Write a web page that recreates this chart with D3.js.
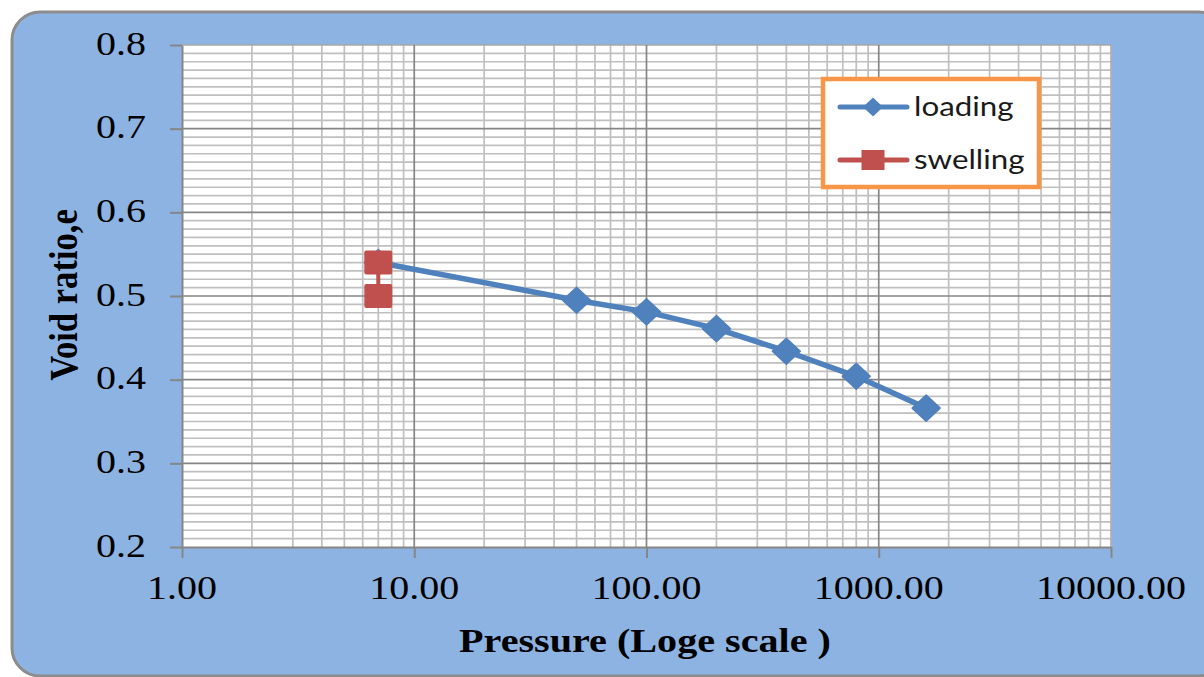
<!DOCTYPE html>
<html>
<head>
<meta charset="utf-8">
<script src="https://cdn.jsdelivr.net/npm/d3@7"></script>
<style>
  html, body { margin: 0; padding: 0; background: #ffffff; }
  svg { display: block; }
</style>
</head>
<body>
<svg id="chart" width="1204" height="677"></svg>
<script>
// ---- data ----
const loadingPressure = [7, 50, 100, 200, 400, 800, 1600];
const loadingVoid     = [0.540, 0.495, 0.481, 0.461, 0.434, 0.404, 0.366];
const swellingPressure = [7, 7];
const swellingVoid     = [0.540, 0.500];
const xTickValues = [1, 10, 100, 1000, 10000];
const yTickValues = [0.2, 0.3, 0.4, 0.5, 0.6, 0.7, 0.8];
const seriesNames = ["loading", "swelling"];
const xTitle = "Pressure (Loge scale )";
const yTitle = "Void ratio,e";

// ---- layout ----
const svg = d3.select("#chart");
const SX = 1.16; // horizontal stretch of the reference
const plot = { left: 182, right: 1111, top: 45, bottom: 547 };

const x = d3.scaleLog().domain([1, 10000]).range([plot.left, plot.right]);
const y = d3.scaleLinear().domain([0.2, 0.8]).range([plot.bottom, plot.top]);

// outer rounded background
svg.append("rect")
  .attr("x", 12).attr("y", 12)
  .attr("width", 1215).attr("height", 664)
  .attr("rx", 28).attr("ry", 28)
  .attr("fill", "#8db3e2")
  .attr("stroke", "#8c8c8c").attr("stroke-width", 3);

// plot area
svg.append("rect")
  .attr("x", plot.left).attr("y", plot.top)
  .attr("width", plot.right - plot.left).attr("height", plot.bottom - plot.top)
  .attr("fill", "#ffffff");

const grid = svg.append("g");
const minorColor = "#bfbfbf";

// minor vertical grid
const minorX = [];
for (let d = 1; d < 10000; d *= 10) for (let k = 2; k <= 9; k++) minorX.push(d * k);
grid.selectAll("line.mvx").data(minorX).enter().append("line")
  .attr("x1", d => x(d)).attr("x2", d => x(d))
  .attr("y1", plot.top).attr("y2", plot.bottom)
  .attr("stroke", minorColor).attr("stroke-width", 1.7);

// minor horizontal grid
const minorY = d3.range(20, 81).map(v => v / 100);
grid.selectAll("line.mhy").data(minorY.filter(v => Math.round(v * 100) % 10 !== 0)).enter().append("line")
  .attr("x1", plot.left).attr("x2", plot.right)
  .attr("y1", d => y(d)).attr("y2", d => y(d))
  .attr("stroke", minorColor).attr("stroke-width", 1.7);

// right edge (10000)
grid.append("line")
  .attr("x1", x(10000)).attr("x2", x(10000))
  .attr("y1", plot.top).attr("y2", plot.bottom)
  .attr("stroke", "#b0b0b0").attr("stroke-width", 1.7);

// major horizontal grid
grid.selectAll("line.My").data(yTickValues.filter(v => v > 0.2)).enter().append("line")
  .attr("x1", plot.left).attr("x2", plot.right)
  .attr("y1", d => y(d)).attr("y2", d => y(d))
  .attr("stroke", d => d === 0.8 ? "#a8a8a8" : "#868686").attr("stroke-width", 1.7);

// major vertical grid
grid.selectAll("line.Mx").data(xTickValues.filter(v => v > 1 && v < 10000)).enter().append("line")
  .attr("x1", d => x(d)).attr("x2", d => x(d))
  .attr("y1", plot.top).attr("y2", plot.bottom)
  .attr("stroke", "#868686").attr("stroke-width", 1.7);

// axes
const yAxis = svg.append("g").attr("transform", `translate(${plot.left},0)`)
  .call(d3.axisLeft(y).tickValues(yTickValues).tickSize(12).tickSizeOuter(0).tickFormat(""));
const xAxis = svg.append("g").attr("transform", `translate(0,${plot.bottom})`)
  .call(d3.axisBottom(x).tickValues(xTickValues).tickSize(11).tickSizeOuter(0).tickFormat(""));
[yAxis, xAxis].forEach(a => {
  a.selectAll("path").attr("stroke", "#868686").attr("stroke-width", 2);
  a.selectAll("line").attr("stroke", "#868686").attr("stroke-width", 2);
});

// tick labels
const fmtX = d3.format(".2f");
svg.append("g").selectAll("text").data(yTickValues).enter().append("text")
  .attr("transform", d => `translate(146,${y(d) + 9.5}) scale(${SX},1)`)
  .attr("text-anchor", "end")
  .attr("font-family", "'Liberation Serif', 'Times New Roman', serif")
  .attr("font-size", 34.5)
  .attr("fill", "#000")
  .text(d => d.toFixed(1));
svg.append("g").selectAll("text").data(xTickValues).enter().append("text")
  .attr("transform", d => `translate(${x(d)},599) scale(${SX},1)`)
  .attr("text-anchor", "middle")
  .attr("font-family", "'Liberation Serif', 'Times New Roman', serif")
  .attr("font-size", 34.5)
  .attr("fill", "#000")
  .text(d => fmtX(d));

// axis titles
svg.append("text")
  .attr("transform", `translate(645,652) scale(${SX},1)`)
  .attr("text-anchor", "middle")
  .attr("font-family", "'Liberation Serif', 'Times New Roman', serif")
  .attr("font-weight", "bold")
  .attr("font-size", 34.6)
  .attr("fill", "#000")
  .text(xTitle);
svg.append("text")
  .attr("transform", `translate(77,295) scale(${SX},1) rotate(-90)`)
  .attr("text-anchor", "middle")
  .attr("font-family", "'Liberation Serif', 'Times New Roman', serif")
  .attr("font-weight", "bold")
  .attr("font-size", 34.6)
  .attr("fill", "#000")
  .text(yTitle);

// ---- series ----
const blue = "#4f81bd", red = "#c0504d";
const loading = loadingPressure.map((p, i) => [p, loadingVoid[i]]);
const swelling = swellingPressure.map((p, i) => [p, swellingVoid[i]]);
const line = d3.line().x(d => x(d[0])).y(d => y(d[1]));

const diamond = (w, h) => `M0,${-h/2}L${w/2},0L0,${h/2}L${-w/2},0Z`;

svg.append("path").datum(loading)
  .attr("d", line).attr("fill", "none")
  .attr("stroke", blue).attr("stroke-width", 5.5).attr("stroke-linejoin", "round").attr("stroke-linecap", "round");
svg.append("g").selectAll("path").data(loading).enter().append("path")
  .attr("transform", d => `translate(${x(d[0])},${y(d[1])})`)
  .attr("d", diamond(28, 26)).attr("fill", blue)
  .attr("stroke", blue).attr("stroke-width", 1.5).attr("stroke-linejoin", "round");

svg.append("path").datum(swelling)
  .attr("d", line).attr("fill", "none")
  .attr("stroke", red).attr("stroke-width", 4);
svg.append("g").selectAll("rect").data(swelling).enter().append("rect")
  .attr("x", d => x(d[0]) - 14).attr("y", d => y(d[1]) - 12)
  .attr("width", 28).attr("height", 24).attr("rx", 2)
  .attr("fill", red);

// ---- legend ----
const lg = svg.append("g");
lg.append("rect")
  .attr("x", 823).attr("y", 79).attr("width", 216).attr("height", 108)
  .attr("fill", "#ffffff").attr("stroke", "#f79646").attr("stroke-width", 4.5);
const legendY = [107, 160];
const legendColors = [blue, red];
seriesNames.forEach((name, i) => {
  const ly = legendY[i];
  lg.append("line").attr("x1", 840).attr("x2", 907).attr("y1", ly).attr("y2", ly)
    .attr("stroke", legendColors[i]).attr("stroke-width", 5).attr("stroke-linecap", "round");
  if (i === 0) {
    lg.append("path").attr("transform", `translate(873,${ly})`)
      .attr("d", diamond(20, 19)).attr("fill", blue);
  } else {
    lg.append("rect").attr("x", 873 - 11.5).attr("y", ly - 10).attr("width", 23).attr("height", 20)
      .attr("fill", red);
  }
  lg.append("text")
    .attr("transform", `translate(914,${ly + 9}) scale(${SX},1)`)
    .attr("font-family", "Lato, 'Noto Sans', sans-serif")
    .attr("font-size", 27)
    .attr("fill", "#1a1a1a")
    .text(name);
});
</script>
</body>
</html>
